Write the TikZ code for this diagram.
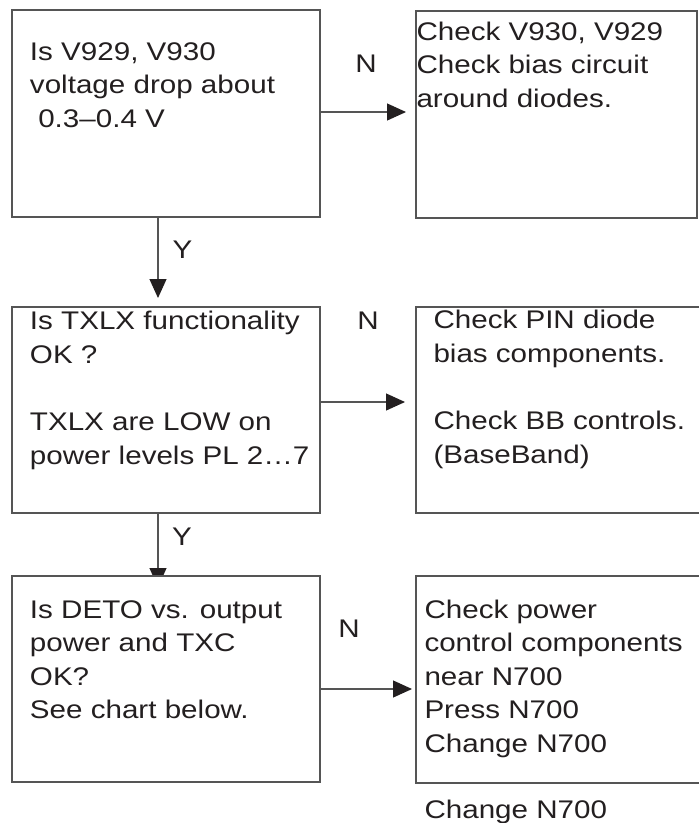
\documentclass[tikz,border=0pt]{standalone}
\usepackage{fontspec}
\setmainfont{Liberation Sans}[FakeStretch=1.16]
\usetikzlibrary{arrows.meta}
\definecolor{ink}{HTML}{231F20}
\definecolor{edge}{HTML}{555555}
\tikzset{
  stepbox/.style={draw=edge, fill=white, line width=1.2pt, inner sep=0pt,
    outer sep=0pt, anchor=north west},
  % multi-line texts are placed by the baseline of their last line
  steptext/.style={anchor=base west, align=left, inner sep=0pt, outer sep=0pt,
    text=ink, font=\fontsize{25.5}{33.6}\selectfont},
  branch/.style={anchor=base, inner sep=0pt, text=ink,
    font=\fontsize{25.5}{30}\selectfont},
  flow/.style={draw=edge, line width=1.2pt,
    -{Triangle[length=19pt,width=17pt,color=ink]}},
}
\begin{document}
\begin{tikzpicture}[x=1pt,y=-1pt]
\useasboundingbox (0,0) rectangle (699,823);

% decision and action boxes, upper two rows
\node[stepbox, minimum width=308pt, minimum height=207pt] (b1) at (12,10) {};
\node[stepbox, minimum width=281pt, minimum height=207pt] (b2) at (416,11) {};
\node[stepbox, minimum width=308pt, minimum height=206pt] (b3) at (12,307) {};
\node[stepbox, minimum width=290pt, minimum height=206pt] (b4) at (416,307) {};

% "yes" paths down the left column
\coordinate (y1tip) at (158,298);
\coordinate (y2tip) at (158,587);
\draw[flow] (b1.south -| y1tip) -- (y1tip);
\draw[flow] (b3.south -| y2tip) -- (y2tip);

% bottom row boxes
\node[stepbox, minimum width=308pt, minimum height=206pt] (b5) at (12,576) {};
\node[stepbox, minimum width=290pt, minimum height=207pt] (b6) at (416,576) {};

% "no" paths to the right column
\coordinate (n1tip) at (406,112);
\coordinate (n2tip) at (405,402);
\coordinate (n3tip) at (412,689);
\draw[flow] (b1.east |- n1tip) -- (n1tip);
\draw[flow] (b3.east |- n2tip) -- (n2tip);
\draw[flow] (b5.east |- n3tip) -- (n3tip);

% box texts
\node[steptext] (t1) at (30,127.2) {Is V929, V930\\voltage drop about\\\hspace*{8.3pt}0.3--0.4 V};
\node[steptext] (t2) at (416.5,107.2) {Check V930, V929\\Check bias circuit\\around diodes.};
\node[steptext] (t3) at (30,464) {Is TXLX functionality\\OK ?\\[33.6pt]TXLX are LOW on\\power levels PL 2…7};
\node[steptext] (t4) at (433.5,463) {Check PIN diode\\bias components.\\[33.6pt]Check BB controls.\\(BaseBand)};
\node[steptext] (t5) at (30,718.8) {Is DETO vs. output\\power and TXC\\OK?\\See chart below.};
\node[steptext] (t6) at (424.5,752.4) {Check power\\control components\\near N700\\Press N700\\Change N700};
\node[steptext] (t7) at (424.5,818) {Change N700};

% branch labels
\node[branch] (ln1) at (366,72) {N};
\node[branch] (ln2) at (368,329) {N};
\node[branch] (ln3) at (349,637) {N};
\node[branch] (ly1) at (182.5,258) {Y};
\node[branch] (ly2) at (182,545) {Y};
\end{tikzpicture}
\end{document}
